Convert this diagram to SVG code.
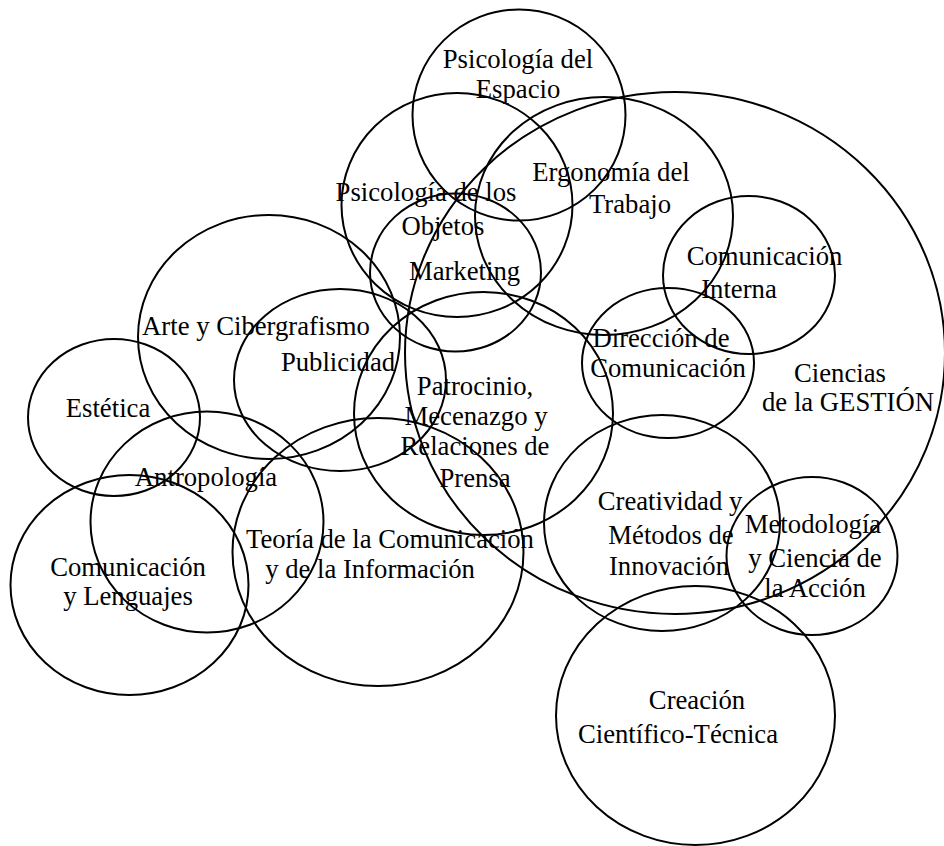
<svg xmlns="http://www.w3.org/2000/svg" width="944" height="846" viewBox="0 0 944 846">
<style>
ellipse{fill:none;stroke:#000;stroke-width:2}
text{font-family:"Liberation Serif","Times New Roman",serif;font-size:26.7px;fill:#000;text-anchor:middle}
</style>
<rect width="944" height="846" fill="#fff"/>
<g id="gestion"><ellipse cx="675" cy="353" rx="270" ry="261"/><text x="840" y="382">Ciencias</text><text x="848" y="411">de la GESTIÓN</text></g>
<g id="psico-espacio"><ellipse cx="519" cy="115" rx="106.5" ry="105.5"/><text x="518" y="68">Psicología del</text><text x="518" y="98">Espacio</text></g>
<g id="psico-objetos"><ellipse cx="457" cy="205" rx="115.5" ry="112"/><text x="426" y="201">Psicología de los</text><text x="443" y="235">Objetos</text></g>
<g id="ergonomia"><ellipse cx="604" cy="216" rx="129" ry="119"/><text x="611" y="181">Ergonomía del</text><text x="630" y="213">Trabajo</text></g>
<g id="marketing"><ellipse cx="455.5" cy="272.5" rx="85.5" ry="79"/><text x="464.5" y="280">Marketing</text></g>
<g id="com-interna"><ellipse cx="749" cy="275" rx="86" ry="79"/><text x="764.5" y="265">Comunicación</text><text x="739" y="298">Interna</text></g>
<g id="arte"><ellipse cx="269" cy="337" rx="131" ry="122"/><text x="256" y="335">Arte y Cibergrafismo</text></g>
<g id="publicidad"><ellipse cx="340" cy="380" rx="106" ry="91"/><text x="338" y="371">Publicidad</text></g>
<g id="patrocinio"><ellipse cx="483.5" cy="413.5" rx="129.5" ry="121.5"/><text x="475" y="395">Patrocinio,</text><text x="476" y="425">Mecenazgo y</text><text x="475" y="455">Relaciones de</text><text x="475" y="487">Prensa</text></g>
<g id="direccion"><ellipse cx="668" cy="363" rx="86" ry="75"/><text x="661" y="347">Dirección de</text><text x="668" y="377">Comunicación</text></g>
<g id="estetica"><ellipse cx="114" cy="417.5" rx="86" ry="78.5"/><text x="108" y="417">Estética</text></g>
<g id="antropologia"><ellipse cx="207" cy="522" rx="116.5" ry="110.5"/><text x="206" y="486">Antropología</text></g>
<g id="com-lenguajes"><ellipse cx="129.5" cy="585" rx="119" ry="110"/><text x="128" y="576">Comunicación</text><text x="128" y="605">y Lenguajes</text></g>
<g id="teoria"><ellipse cx="378" cy="552" rx="145.5" ry="134"/><text x="390" y="548">Teoría de la Comunicación</text><text x="370" y="578">y de la Información</text></g>
<g id="creatividad"><ellipse cx="662" cy="523" rx="118" ry="108"/><text x="670" y="510">Creatividad y</text><text x="671" y="544">Métodos de</text><text x="669" y="575">Innovación</text></g>
<g id="metodologia"><ellipse cx="812" cy="556" rx="85.5" ry="79"/><text x="813" y="533">Metodología</text><text x="815" y="567">y Ciencia de</text><text x="815" y="597">la Acción</text></g>
<g id="creacion"><ellipse cx="695.5" cy="715.5" rx="139.5" ry="129.5"/><text x="697" y="709">Creación</text><text x="678" y="743">Científico-Técnica</text></g>
<g id="connectors"></g>
</svg>
